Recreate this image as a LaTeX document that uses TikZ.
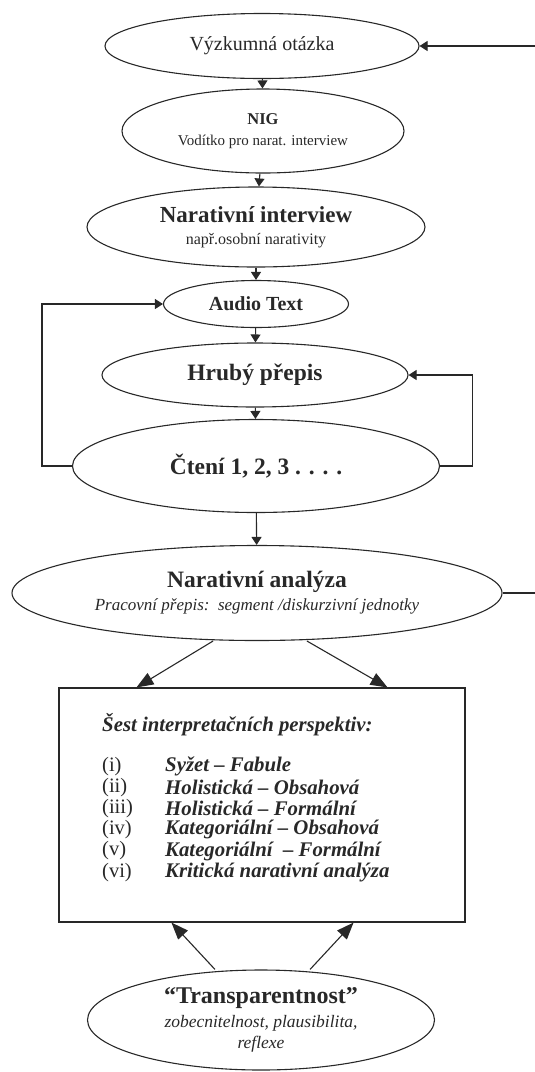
\documentclass[tikz,border=0pt]{standalone}
\usepackage{fontspec}
\setmainfont{Liberation Serif}
\usetikzlibrary{shapes.geometric,arrows.meta}
\definecolor{ink}{RGB}{40,40,40}

\begin{document}
\begin{tikzpicture}[x=1pt, y=-1pt,
        oval/.style={ellipse, draw=ink, line width=1.1pt, inner sep=0pt, align=center, text=ink},
        arr/.style={-{Triangle[length=8pt,width=10pt]}, draw=ink, line width=1.1pt},
        bigarr/.style={-{Triangle[length=17pt,width=13pt]}, draw=ink, line width=1.1pt}]
    \useasboundingbox (0,0) rectangle (535,1072);

    % flow of ellipses
    \node[oval, minimum width=314pt, minimum height=65pt, font=\fontsize{20}{24}\selectfont] (q) at (262,46) {Výzkumná otázka};
    \node[oval, minimum width=282pt, minimum height=84pt, font=\fontsize{16.5}{21}\selectfont] (nig) at (263,131)
        {\textbf{NIG}\\{\fontsize{15}{16}\selectfont Vodítko pro narat. interview}};
    \node[oval, minimum width=338pt, minimum height=80pt, font=\fontsize{23}{22}\selectfont] (ni) at (256,227)
        {\textbf{Narativní interview}\\{\fontsize{16}{18}\selectfont např.osobní narativity}};
    \node[oval, minimum width=185pt, minimum height=47pt, font=\bfseries\fontsize{20}{24}\selectfont] (audio) at (256,304) {Audio Text};
    \node[oval, minimum width=306pt, minimum height=64pt, font=\bfseries\fontsize{23.5}{26}\selectfont] (hruby) at (255,375) {Hrubý přepis};
    \node[oval, minimum width=367pt, minimum height=93pt, font=\bfseries\fontsize{23.5}{26}\selectfont] (cteni) at (256,466) {Čtení 1, 2, 3 . . . .};
    \node[oval, minimum width=490pt, minimum height=95pt, font=\fontsize{23.5}{23}\selectfont] (na) at (257,593)
        {\textbf{Narativní analýza}\\{\itshape\fontsize{17}{19}\selectfont Pracovní přepis:\ \ segment /diskurzivní jednotky}};
    \node[oval, minimum width=347pt, minimum height=100pt, font=\fontsize{24}{24}\selectfont] (tr) at (261,1020)
        {\textbf{“Transparentnost”}\\{\itshape\fontsize{17.5}{20}\selectfont zobecnitelnost, plausibilita,}\\[-3pt]{\itshape\fontsize{17.5}{20}\selectfont reflexe}};

    % box with the perspectives
    \node[draw=ink, line width=1.1pt, minimum width=406pt, minimum height=234pt, inner sep=0pt] (box) at (262,805) {};
    \node[anchor=west, inner sep=0pt, text=ink, font=\bfseries\itshape\fontsize{20.8}{22}\selectfont] (head) at (102,725) {Šest interpretačních perspektiv:};
    \foreach \lab/\txt [count=\i] in {i/Syžet – Fabule, ii/Holistická – Obsahová, iii/Holistická – Formální,
            iv/Kategoriální – Obsahová, v/Kategoriální\ \ – Formální, vi/Kritická narativní analýza} {
        \node[anchor=west, inner sep=0pt, text=ink, font=\fontsize{20.5}{22}\selectfont] (lab\i) at (102,{745+21.2*\i}) {(\lab)};
        \node[anchor=west, inner sep=0pt, text=ink, font=\bfseries\itshape\fontsize{20.8}{22}\selectfont] (item\i) at (165,{745+21.2*\i}) {\txt};
    }

    \coordinate (qin) at (535,46);
    \coordinate (naout) at (535,593);

    % connectors
    \draw[arr] (qin) -- (q);
    \draw[arr] (q) -- (nig);
    \draw[arr] (nig) -- (ni);
    \draw[arr] (ni) -- (audio);
    \draw[arr] (audio) -- (hruby);
    \draw[arr] (hruby) -- (cteni);
    \draw[arr] (cteni) -- (na);
    \draw[arr] (cteni.west) -- ++(-30,0) |- (audio.west);
    \draw[arr] (cteni.east) -- ++(32,0) |- (hruby.east);
    \draw[draw=ink, line width=1.1pt] (na.east) -- (naout);
    \draw[bigarr] ([xshift=-44pt]na.south) -- ([xshift=78pt]box.north west);
    \draw[bigarr] ([xshift=50pt]na.south) -- ([xshift=-78pt]box.north east);
    \draw[bigarr] ([xshift=-46pt]tr.north) -- ([xshift=113pt]box.south west);
    \draw[bigarr] ([xshift=49pt]tr.north) -- ([xshift=-112pt]box.south east);
\end{tikzpicture}
\end{document}
